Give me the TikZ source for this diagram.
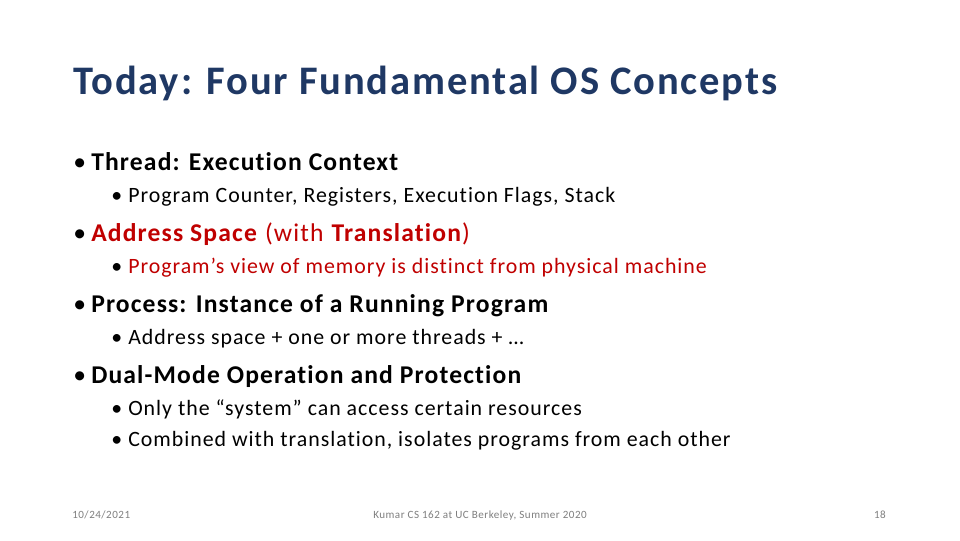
\documentclass[tikz,border=0pt]{standalone}
\usepackage{fontspec}
\setmainfont{Carlito}[LetterSpace=4.5,Ligatures=NoCommon]
\definecolor{titleblue}{HTML}{1F3864}
\definecolor{darkred}{HTML}{C00000}
\definecolor{footgray}{HTML}{7F7F7F}
\begin{document}
\begin{tikzpicture}[x=0.75pt,y=-0.75pt,
  lone/.style={anchor=base west,inner sep=0pt,font=\fontsize{19.2}{21}\selectfont},
  ltwo/.style={anchor=base west,inner sep=0pt,font=\fontsize{16.4}{18}\selectfont},
  foot/.style={anchor=base,inner sep=0pt,font=\fontsize{8.3}{9}\selectfont,text=footgray}]
\useasboundingbox[fill=white] (0,0) rectangle (960,540);
\node[anchor=base west,inner sep=0pt,font=\fontsize{30.4}{34}\selectfont\bfseries,text=titleblue] (title) at (73,94) {Today: Four Fundamental OS Concepts};
\node[lone] (d1) at (73,170) {•};
\node[lone] (b1) at (91,170) {\textbf{Thread: Execution Context}};
\node[ltwo] (e1) at (111,202) {•};
\node[ltwo] (s1) at (128,202) {Program Counter, Registers, Execution Flags, Stack};
\node[lone] (d2) at (73,241) {•};
\node[lone,text=darkred] (b2) at (91,241) {\textbf{Address Space} (with \textbf{Translation})};
\node[ltwo] (e2) at (111,273) {•};
\node[ltwo,text=darkred] (s2) at (128,273) {Program’s view of memory is distinct from physical machine};
\node[lone] (d3) at (73,312) {•};
\node[lone] (b3) at (91,312) {\textbf{Process: Instance of a Running Program}};
\node[ltwo] (e3) at (111,344) {•};
\node[ltwo] (s3) at (128,344) {Address space + one or more threads + …};
\node[lone] (d4) at (73,383) {•};
\node[lone] (b4) at (91,383) {\textbf{Dual-Mode Operation and Protection}};
\node[ltwo] (e4) at (111,415) {•};
\node[ltwo] (s4) at (128,415) {Only the “system” can access certain resources};
\node[ltwo] (e5) at (111,446) {•};
\node[ltwo] (s5) at (128,446) {Combined with translation, isolates programs from each other};
\node[foot,anchor=base west] (date) at (72,518) {10/24/2021};
\node[foot] (center) at (480,518) {Kumar CS 162 at UC Berkeley, Summer 2020};
\node[foot,anchor=base east] (page) at (886,518) {18};
\end{tikzpicture}
\end{document}
